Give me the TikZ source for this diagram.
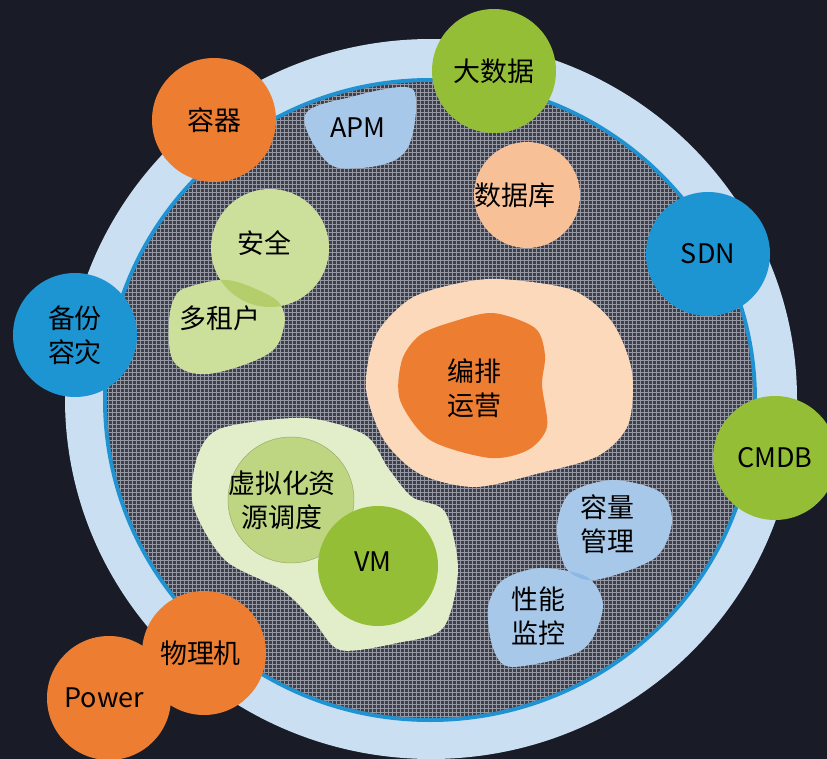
\documentclass[tikz,border=0pt]{standalone}
\usepackage{fontspec}
\setmainfont{Noto Sans CJK SC}

\definecolor{bgdark}{HTML}{191B27}
\definecolor{ringlight}{HTML}{CBDFF3}
\definecolor{rimblue}{HTML}{1F93D2}
\definecolor{innergray}{HTML}{3D3F4B}
\definecolor{gridgray}{HTML}{9597A3}
\definecolor{bigorange}{HTML}{ED7D31}
\definecolor{biggreen}{HTML}{93BE35}
\definecolor{bigblue}{HTML}{1E95D3}
\definecolor{softgreen}{HTML}{CCDF9B}
\definecolor{lensgreen}{HTML}{B3CE6A}
\definecolor{palegreen}{HTML}{E2EDCA}
\definecolor{midgreen}{HTML}{BED581}
\definecolor{peach}{HTML}{FCD9BA}
\definecolor{deeppeach}{HTML}{F8C096}
\definecolor{softblue}{HTML}{A7C8E8}
\definecolor{lensblue}{HTML}{8DB8E3}

\tikzset{
  bubble/.style={circle,inner sep=0pt,minimum size=3.72cm},
}

\begin{document}
\begin{tikzpicture}[x=0.03cm,y=-0.03cm,
    every node/.style={font=\fontsize{23}{29}\selectfont,align=center,text=black}]

      \useasboundingbox (0,0) rectangle (827,759);
      \clip (0,0) rectangle (827,759);
      \fill[bgdark] (0,0) rectangle (827,759);

      % ring and pool
      \fill[ringlight] (431,399) ellipse [x radius=366,y radius=360];
      \fill[rimblue] (430,400) ellipse [x radius=327,y radius=322];
      \fill[innergray] (430,400) ellipse [x radius=323,y radius=318];
      \begin{scope}
        \clip (430,400) ellipse [x radius=323,y radius=318];
        \draw[gridgray,line width=0.5pt] (100,725) grid[step=0.12cm] (760,75);
      \end{scope}

      % blobs inside the pool
      \fill[softblue] plot[smooth cycle,tension=0.6] coordinates
        {(305,115) (355,96) (405,87) (416,100) (411,140) (395,160) (360,168) (327,162)};
      \fill[peach] plot[smooth cycle] coordinates
        {(500,279) (572,290) (612,322) (632,372) (628,425) (598,456) (540,473) (475,487)
         (420,474) (384,440) (366,388) (376,335) (410,299) (455,284)};
      \fill[bigorange] plot[smooth cycle] coordinates
        {(493,313) (535,328) (545,355) (542,385) (547,427) (528,450) (490,458) (430,440)
         (400,400) (402,360) (420,335) (452,322)};
      \fill[palegreen] plot[smooth cycle] coordinates
        {(222,428) (305,418) (365,435) (388,468) (412,497) (445,512) (458,570) (443,628)
         (397,643) (340,650) (313,620) (282,590) (225,560) (193,505) (198,455)};
      \fill[softgreen] plot[smooth cycle,tension=0.6] coordinates
        {(192,286) (226,280) (258,290) (280,304) (284,326) (268,354) (208,374) (174,362) (169,322) (176,295)};
      \fill[softblue] plot[smooth cycle] coordinates
        {(613,480) (660,492) (672,522) (655,558) (595,580) (566,568) (557,527) (570,493)};
      \fill[softblue] plot[smooth cycle] coordinates
        {(540,568) (587,577) (603,607) (582,650) (512,667) (493,648) (488,607) (503,580)};
      \begin{scope}
        \clip plot[smooth cycle] coordinates
          {(613,480) (660,492) (672,522) (655,558) (595,580) (566,568) (557,527) (570,493)};
        \fill[lensblue] plot[smooth cycle] coordinates
          {(540,568) (587,577) (603,607) (582,650) (512,667) (493,648) (488,607) (503,580)};
      \end{scope}

      \begin{scope}[every node/.append style={circle,inner sep=0pt}]
        \node[fill=softgreen,minimum size=3.54cm] (anquan) at (270,248) {};
        \node[fill=deeppeach,minimum size=3.18cm] (shujuku) at (527,195) {};
        \node[fill=midgreen,draw=midgreen!80!black,line width=0.4pt,minimum size=3.78cm] (xuni) at (291,500) {};
        \node[fill=biggreen,minimum size=3.6cm] (vm) at (378,566) {};
      \end{scope}
      \begin{scope}
        \clip (270,248) circle (59);
        \fill[lensgreen] plot[smooth cycle,tension=0.6] coordinates
          {(192,286) (226,280) (258,290) (280,304) (284,326) (268,354) (208,374) (174,362) (169,322) (176,295)};
      \end{scope}

      % labels inside the pool
      \node (apm) at (358,128) {APM};
      \node at (515,195) {数据库};
      \node at (264,243) {安全};
      \node (zuhu) at (220,318) {多租户};
      \node (bianpai) at (474,388) {编排\\运营};
      \node at (282,500) {虚拟化资\\源调度};
      \node at (373,562) {VM};
      \node (rongliang) at (607,524) {容量\\管理};
      \node (xingneng) at (538,616) {性能\\监控};

      % bubbles on the ring
      \begin{scope}[every node/.append style={bubble}]
        \node[fill=bigorange] (rongqi) at (214,120) {容器};
        \node[fill=biggreen]  (dashuju) at (494,71) {大数据};
        \node[fill=bigblue]   (sdn) at (708,254) {SDN};
        \node[fill=biggreen]  (cmdb) at (775,458) {CMDB};
        \node[fill=bigblue]   (beifen) at (75,335) {备份\\容灾};
        \node[fill=bigorange] (wuliji) at (204,653) {\hspace*{-6pt}物理机};
        \node[fill=bigorange] (power) at (109,698) {\hspace*{-8pt}Power};
      \end{scope}

    \end{tikzpicture}
\end{document}
